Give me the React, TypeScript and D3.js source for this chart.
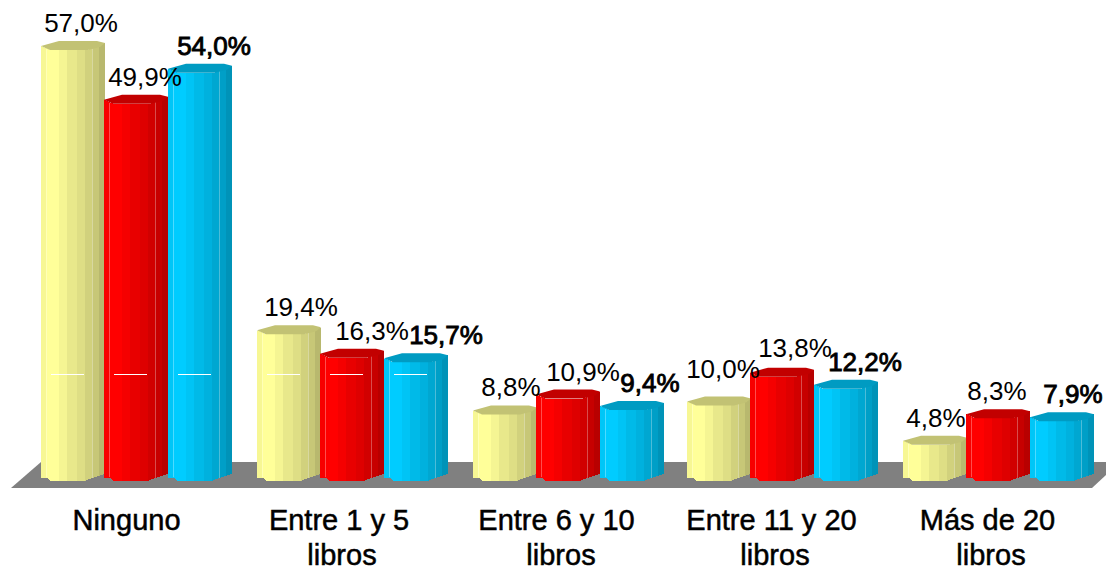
import React from "react";
import * as d3 from "d3";

const W = 1106, H = 568;
const categories = [["Ninguno"], ["Entre 1 y 5", "libros"], ["Entre 6 y 10", "libros"], ["Entre 11 y 20", "libros"], ["Más de 20", "libros"]];
const serieA = [57.0, 19.4, 8.8, 10.0, 4.8];
const serieB = [49.9, 16.3, 10.9, 13.8, 8.3];
const serieC = [54.0, 15.7, 9.4, 12.2, 7.9];
const series = [
  { values: serieA, base: "#ffff99", bold: false },
  { values: serieB, base: "#ff0000", bold: false },
  { values: serieC, base: "#00ccff", bold: true },
];
const hiddenGridValue = 14.15;
const stripEdges = [0, 5, 18, 26, 36, 44, 51, 58, 64];
const stripShade = [0.97, 1, 0.96, 0.91, 0.87, 0.82, 0.78, 0.72];
const groupStarts = [41, 257, 473, 687, 903];
const labelCentres = [
  [81, 301, 511, 723, 936],
  [145, 372, 583, 795, 997],
  [214, 446, 650, 865, 1073],
];
const labelLift = [
  [0, 0, 0, 9, 0],
  [0, 0, 0, 2, 0],
  [0, 0, 0, 0, 0],
];
const nameCentres = [
  [126.5],
  [339, 342],
  [556.5, 561],
  [771.5, 775],
  [987.5, 991],
];

const fmt = (v: number) => v.toFixed(1).replace(".", ",") + "%";
const shade = (c: string, k: number) => {
  const r = d3.rgb(c);
  return d3.rgb(r.r * k, r.g * k, r.b * k).formatHex();
};

const y = d3.scaleLinear().domain([0, 57]).range([481, 50]);
const seriesStep = 63.5;
const topOff = d3.scaleLinear().domain([0, 9, 47, 64]).range([-4, 0, 0, -7]);
const botOff = d3.scaleLinear().domain([0, 6, 10, 44, 51, 64]).range([-3, -3, 0, 0, -3, -7]);

const FONT = '"Liberation Sans", Arial, sans-serif';

export default function App() {
  const line = d3.line();
  return (
    <svg width={W} height={H} style={{ position: "absolute", left: 0, top: 0 }} viewBox={`0 0 ${W} ${H}`}>
      <rect width={W} height={H} fill="#fff" />
      <polygon points="11,488 41,462 1120,462 1092,488" fill="#808080" />
      {categories.map((c, i) =>
        series.map((s, si) => {
          const v = s.values[i];
          const bx = Math.floor(groupStarts[i] + si * seriesStep);
          const T = y(v), B = y(0);
          const top = (r: number) => T + topOff(r);
          const bot = (r: number) => B + botOff(r);
          return (
            <g key={`${i}-${si}`}>
              {stripShade.map((k, j) => {
                const a = stripEdges[j], b = stripEdges[j + 1];
                const rs = d3.range(0, 65).filter((r) => r >= a && r <= b);
                const pts: [number, number][] = [
                  ...rs.map((r) => [bx + r, top(r)] as [number, number]),
                  ...rs.slice().reverse().map((r) => [bx + r, bot(r)] as [number, number]),
                ];
                return <path key={j} d={line(pts) + "Z"} fill={shade(s.base, k)} shapeRendering="crispEdges" />;
              })}
              <line x1={bx + 5.5} x2={bx + 5.5} y1={top(5) + 1} y2={bot(5) - 1} stroke="#fff" strokeOpacity={0.3} />
              <line x1={bx + 51.5} x2={bx + 51.5} y1={top(51)} y2={bot(51)} stroke="#fff" strokeOpacity={0.3} />
              <path
                d={line([[bx, top(0)], [bx + 18, T - 9], [bx + 56, T - 9], [bx + 64, top(64)], [bx + 59, T - 3], [bx + 47, T], [bx + 9, T]] as [number, number][]) + "Z"}
                fill={shade(s.base, 0.76)}
              />
              {v > hiddenGridValue && (
                <line x1={bx + 10} x2={bx + 43} y1={y(hiddenGridValue) + 0.5} y2={y(hiddenGridValue) + 0.5} stroke="#fff" strokeWidth={1} />
              )}
            </g>
          );
        })
      )}
      {categories.map((c, i) =>
        series.map((s, si) => {
          const v = s.values[i];
          return (
            <text
              key={`l${i}-${si}`}
              x={labelCentres[si][i]}
              y={y(v) - 18 - labelLift[si][i]}
              textAnchor="middle"
              fontFamily={FONT}
              fontSize={26}
              fill="#000"
              stroke={s.bold ? "#000" : "none"}
              strokeWidth={s.bold ? 0.9 : 0}
            >
              {fmt(v)}
            </text>
          );
        })
      )}
      {categories.map((c, i) =>
        c.map((t, k) => (
          <text
            key={`c${i}-${k}`}
            x={nameCentres[i][k]}
            y={529.5 + k * 35.5}
            textAnchor="middle"
            fontFamily={FONT}
            fontSize={29}
            fill="#000"
            stroke="#000"
            strokeWidth={0.5}
          >
            {t}
          </text>
        ))
      )}
    </svg>
  );
}
